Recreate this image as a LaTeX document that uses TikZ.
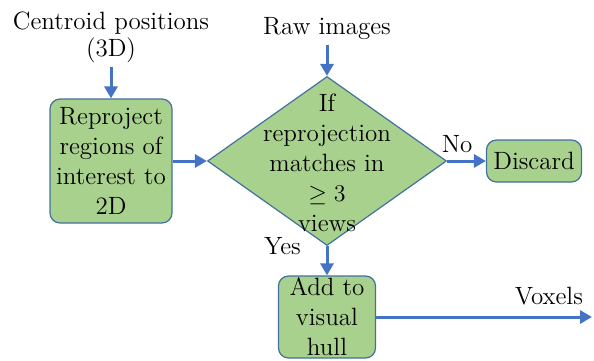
\documentclass[tikz,border=0pt]{standalone}
\usetikzlibrary{shapes.geometric,arrows.meta}

\definecolor{stepfill}{HTML}{A9D18E}
\definecolor{stepline}{HTML}{41719C}
\definecolor{flowblue}{HTML}{4472C4}
\tikzset{
  procbox/.style={draw=stepline,fill=stepfill,line width=0.6pt,
    rounded corners=5pt,align=center,inner sep=0pt},
  flow/.style={draw=flowblue,line width=1.5pt,
    -{Triangle[length=6pt,width=6.5pt]}},
}

\begin{document}
\begin{tikzpicture}[x=0.5pt,y=-0.5pt,font=\fontsize{12.5}{15}\selectfont]
\useasboundingbox (0,0) rectangle (594,360);

\node [align=center,inner sep=2pt,font=\fontsize{12.5}{13.5}\selectfont]
    (centroid) at (111,37) {Centroid positions\\ (3D)};
\node [inner sep=2pt] (raw) at (327,29) {Raw images};

\node [procbox,minimum width=61pt,minimum height=62pt] (reproj) at (111,161)
    {Reproject\\ regions of\\ interest to\\ 2D};
\node [draw=stepline,fill=stepfill,line width=0.6pt,diamond,inner sep=0pt,
    minimum width=119.5pt,minimum height=84.5pt] (check) at (327,161) {};
\node [align=center] (checktext) at (327,163)
    {If\\ reprojection\\ matches in\\ $\geq 3$\\ views};
\node [procbox,minimum width=47.5pt,minimum height=21pt] (discard) at (534,161) {Discard};
\node [procbox,minimum width=48.5pt,minimum height=41pt] (add) at (327,317)
    {Add to\\ visual\\ hull};
\coordinate (voxout) at (592,317);

\draw [flow] (node cs:name=centroid) -- (node cs:name=reproj);
\draw [flow] (node cs:name=raw) -- (node cs:name=check);
\draw [flow] (node cs:name=reproj) -- (node cs:name=check);
\draw [flow] (node cs:name=check) --
    node[pos=0.26,above]
	{No}
    (node cs:name=discard);
\draw [flow] (node cs:name=check) --
    node[at start,anchor=east,xshift=-9pt]
	{Yes}
    (node cs:name=add);
\draw [flow] (node cs:name=add) --
    node[pos=0.8,above,yshift=2pt]
	{Voxels}
    (voxout);
\end{tikzpicture}
\end{document}
